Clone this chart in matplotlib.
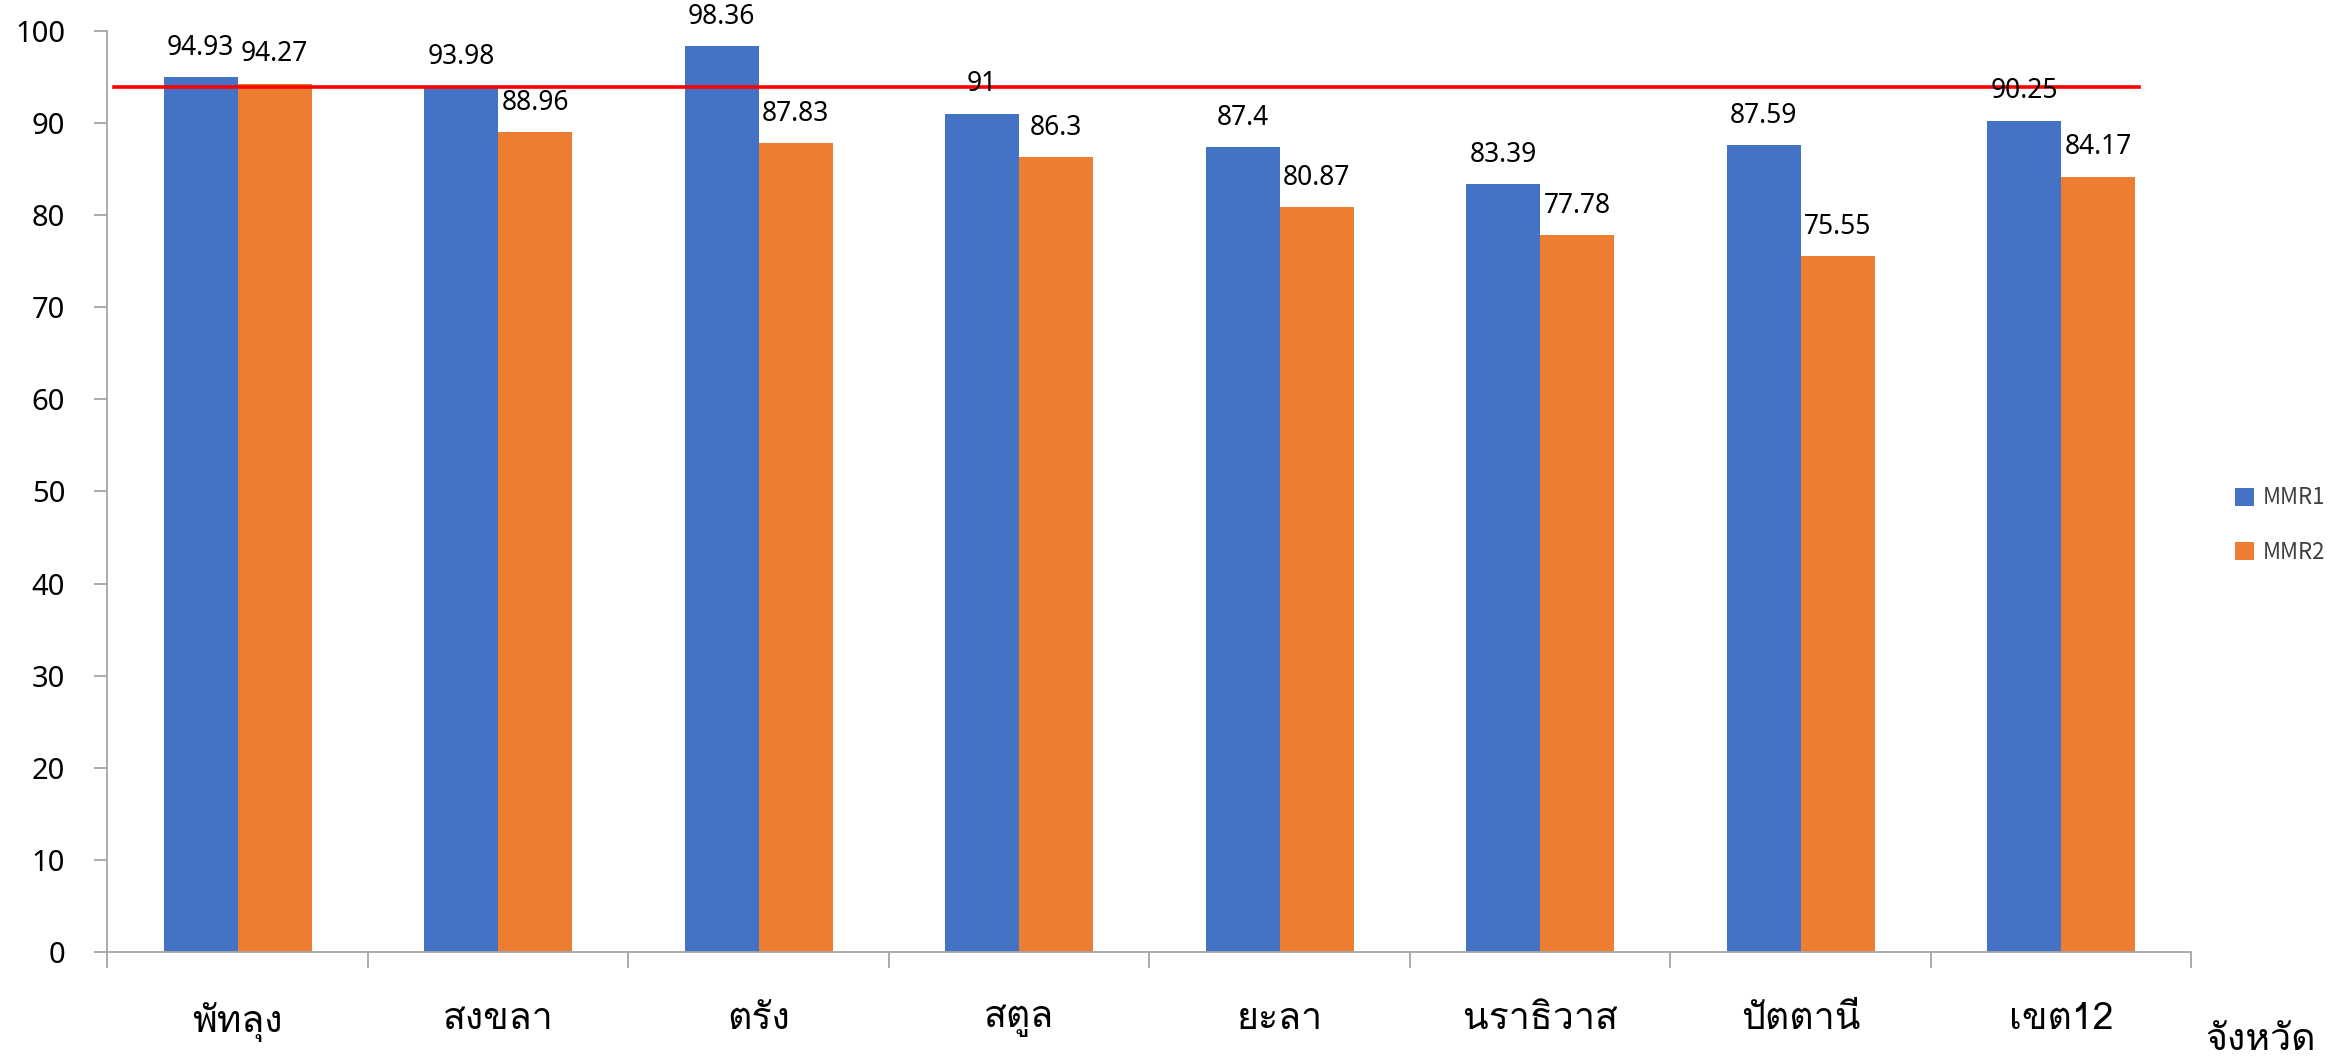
import matplotlib
matplotlib.use("Agg")
import matplotlib.pyplot as plt
import numpy as np

# ข้อมูลจากกราฟ
provinces = ["พัทลุง", "สงขลา", "ตรัง", "สตูล", "ยะลา", "นราธิวาส", "ปัตตานี", "เขต12"]
mmr1 = [94.93, 93.98, 98.36, 91, 87.4, 83.39, 87.59, 90.25]
mmr2 = [94.27, 88.96, 87.83, 86.3, 80.87, 77.78, 75.55, 84.17]
target = 93.9
yticks = [0, 10, 20, 30, 40, 50, 60, 70, 80, 90, 100]

THAI = ["Loma", "Noto Sans Thai Looped", "DejaVu Sans"]
NUM = ["Noto Sans", "DejaVu Sans"]
AXIS_GRAY = "#A6A6A6"

fig = plt.figure(figsize=(23.48, 10.57), dpi=100)
ax = fig.add_axes([0.0457, 0.0993, 0.8876, 0.8716])

x = np.arange(len(provinces))
w = 0.284
b1 = ax.bar(x - w / 2, mmr1, w, color="#4472C4", label="MMR1")
b2 = ax.bar(x + w / 2, mmr2, w, color="#ED7D31", label="MMR2")
ax.plot([-0.475, 7.3], [target, target], color="#FF0000", lw=2.6, zorder=4)

for bars, vals in ((b1, mmr1), (b2, mmr2)):
    for r, v in zip(bars, vals):
        ax.annotate(f"{v:g}", (r.get_x() + r.get_width() / 2, v), xytext=(0, 11),
                    textcoords="offset points", ha="center", va="bottom",
                    fontsize=19, family=NUM, color="black", zorder=5)

ax.set_ylim(0, 100)
ax.set_xlim(-0.5, 7.5)
ax.set_yticks(yticks)
ax.set_yticklabels([str(t) for t in yticks], family=NUM, fontsize=21)
ax.tick_params(axis="y", length=9.4, width=1.3, color=AXIS_GRAY, pad=21)

# x: label ที่กึ่งกลาง, tick ที่ขอบแต่ละกลุ่ม
ax.set_xticks(x)
ax.set_xticklabels(provinces, family=THAI, fontsize=27)
ax.set_xticks(np.arange(-0.5, 8.0, 1.0), minor=True)
ax.tick_params(axis="x", which="major", length=0, pad=36)
ax.tick_params(axis="x", which="minor", length=11.5, width=1.3, color=AXIS_GRAY)

for s in ("top", "right"):
    ax.spines[s].set_visible(False)
for s in ("left", "bottom"):
    ax.spines[s].set_color(AXIS_GRAY)
    ax.spines[s].set_linewidth(1.3)

fig.text(2261 / 2348, 1 - 1040 / 1057, "จังหวัด", family=THAI, fontsize=27,
         ha="center", va="center")

fig.legend(handles=[b1, b2], loc="center left", bbox_to_anchor=(2235 / 2348, 1 - 525 / 1057),
           frameon=False, prop={"family": ["Noto Sans CJK SC", "DejaVu Sans"], "size": 16},
           handlelength=0.86, handleheight=0.86, handletextpad=0.4, labelspacing=1.4,
           borderpad=0, borderaxespad=0, labelcolor="#404040")

fig.savefig("out.png", dpi=100)
